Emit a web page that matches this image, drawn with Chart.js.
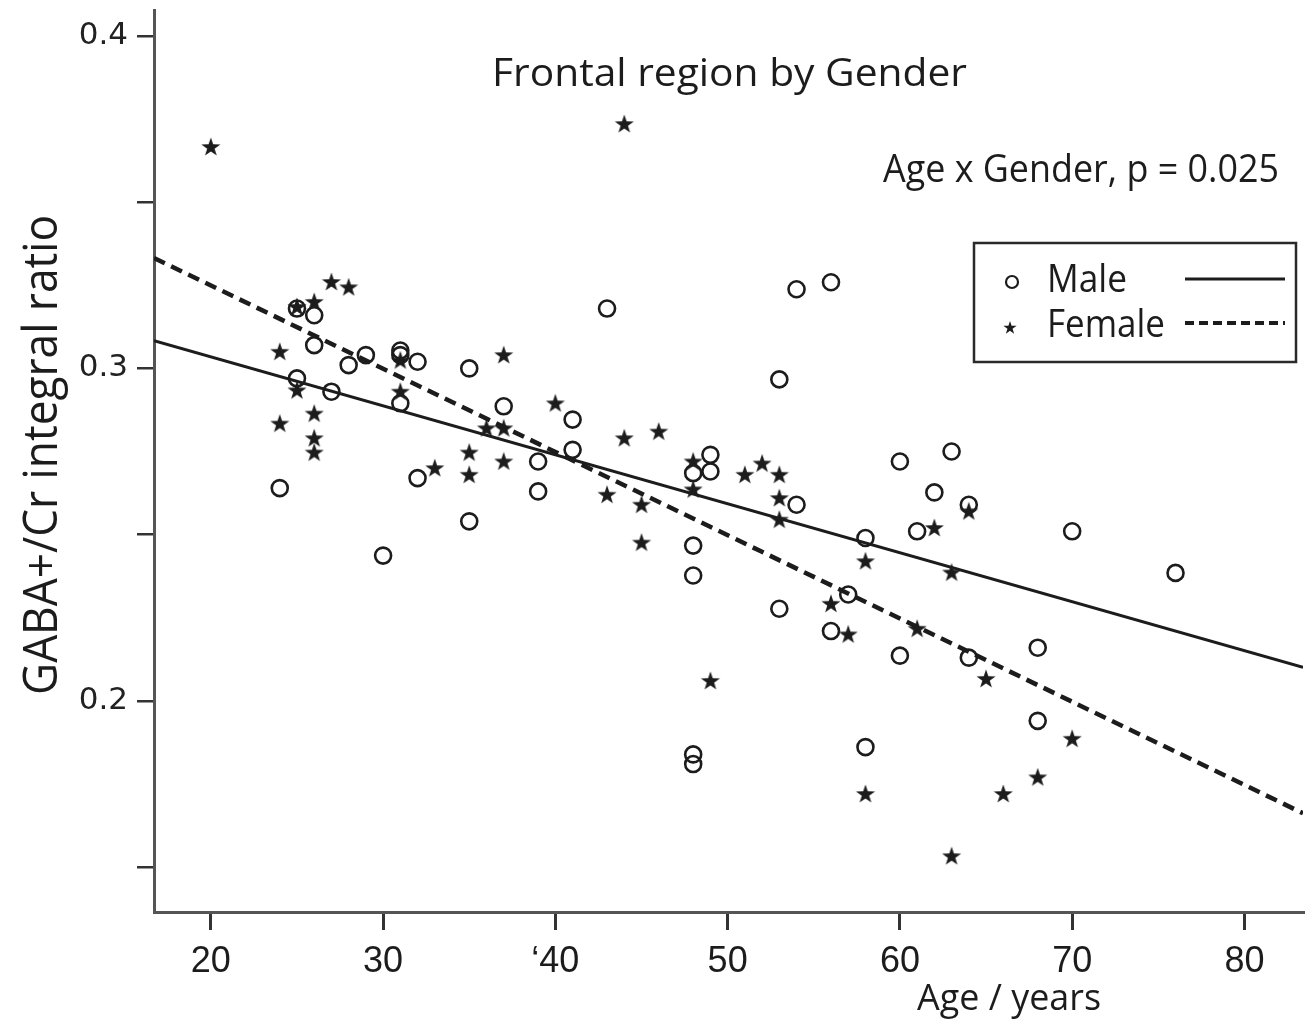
<!DOCTYPE html>
<html lang="en">
<head>
<meta charset="utf-8">
<title>Frontal region by Gender</title>
<script src="https://cdn.jsdelivr.net/npm/chart.js@4.4.1/dist/chart.umd.min.js"></script>
<style>
  body { margin: 0; background: #fff; }
  #wrap { width: 1309px; height: 1023px; }
</style>
</head>
<body>
<div id="wrap"><canvas id="gabaChart" width="1309" height="1023"></canvas></div>
<script>
// male subjects: age (years) and GABA+/Cr ratio
const maleAge = [25, 26, 26, 25, 27, 24, 28, 29, 31, 31, 31, 32, 30, 32, 35, 35, 37, 39, 39, 41,
  41, 43, 48, 49, 49, 48, 48, 48, 48, 53, 54, 56, 54, 53, 57, 56, 58, 58, 60, 60,
  61, 62, 63, 64, 64, 68, 68, 70, 76];
const maleRatio = [0.318, 0.316, 0.307, 0.297, 0.293, 0.264, 0.301, 0.304, 0.3054, 0.304, 0.2895, 0.302, 0.2437, 0.267, 0.300, 0.254, 0.2886, 0.272, 0.263, 0.2846,
  0.2755, 0.318, 0.2685, 0.274, 0.269, 0.2467, 0.2377, 0.1839, 0.181, 0.2967, 0.3238, 0.3259, 0.259, 0.2277, 0.232, 0.221, 0.249, 0.1861, 0.272, 0.2136,
  0.251, 0.2627, 0.275, 0.259, 0.213, 0.216, 0.194, 0.251, 0.2385];

// female subjects
const femaleAge = [20, 44, 27, 28, 26, 25, 24, 31, 37, 25, 31, 26, 24, 26, 26, 33, 35, 35, 36, 37,
  37, 40, 44, 46, 48, 43, 45, 48, 45, 51, 52, 53, 53, 53, 58, 62, 64, 63, 56, 57,
  61, 65, 49, 58, 63, 66, 68, 70];
const femaleRatio = [0.3666, 0.3735, 0.326, 0.3244, 0.320, 0.3185, 0.305, 0.3024, 0.304, 0.2934, 0.293, 0.2864, 0.2834, 0.279, 0.2747, 0.270, 0.2747, 0.268, 0.282, 0.282,
  0.272, 0.2895, 0.279, 0.281, 0.272, 0.262, 0.259, 0.2636, 0.2476, 0.268, 0.2714, 0.268, 0.261, 0.2545, 0.242, 0.252, 0.257, 0.2386, 0.2292, 0.220,
  0.2217, 0.2066, 0.206, 0.172, 0.1533, 0.172, 0.177, 0.1886];

// regression lines, end points at the axis limits
const fitAge = [16.7, 83.4];
const maleFit = [0.3083, 0.2101];
const femaleFit = [0.3332, 0.1662];

const xTicks = [20, 30, 40, 50, 60, 70, 80];
const xTickLabels = ['20', '30', '\u201840', '50', '60', '70', '80'];
const yTicks = [0.15, 0.2, 0.25, 0.3, 0.35, 0.4];
const yTickLabels = ['', '0.2', '', '0.3', '', '0.4'];

const INK = '#1c1c1c';

const pairs = (xs, ys) => xs.map((x, i) => ({ x: x, y: ys[i] }));

// five-pointed star used as the female marker
const starPath = (ctx, cx, cy, outer, inner) => {
  ctx.beginPath();
  for (let i = 0; i < 10; i++) {
    const r = i % 2 ? inner : outer;
    const a = -Math.PI / 2 + i * Math.PI / 5;
    ctx.lineTo(cx + r * Math.cos(a), cy + r * Math.sin(a));
  }
  ctx.closePath();
};
const starImg = document.createElement('canvas');
starImg.width = 24; starImg.height = 24;
(() => {
  const c = starImg.getContext('2d');
  starPath(c, 12, 12.5, 10, 3.9);
  c.fillStyle = INK;
  c.fill();
})();

// text squeezed to a given width (the figure uses a narrow face)
const fitText = (ctx, text, x, y, width, size) => {
  ctx.save();
  ctx.font = size + 'px "Open Sans"';
  const w = ctx.measureText(text).width;
  ctx.translate(x, y);
  ctx.scale(width / w, 1);
  ctx.textAlign = 'left';
  ctx.textBaseline = 'alphabetic';
  ctx.fillStyle = INK;
  ctx.fillText(text, 0, 0);
  ctx.restore();
};

const annotations = {
  id: 'annotations',
  afterDraw(chart) {
    const ctx = chart.ctx;
    const a = chart.chartArea;

    fitText(ctx, 'Frontal region by Gender', a.left + 338, a.top + 76, 475, 38);
    fitText(ctx, 'Age x Gender, p = 0.025', a.right - 420, a.top + 172, 396, 38);
    fitText(ctx, 'Age / years', a.left + 763, 1010, 184, 36);

    // y axis title
    ctx.save();
    ctx.translate(57, 695);
    ctx.rotate(-Math.PI / 2);
    fitText(ctx, 'GABA+/Cr integral ratio', 0, 0, 480, 48);
    ctx.restore();

    // legend box
    const bx = a.right - 329, by = a.top + 233, bw = 322, bh = 119;
    ctx.save();
    ctx.strokeStyle = '#2a2a2a';
    ctx.lineWidth = 2.5;
    ctx.strokeRect(bx, by, bw, bh);

    ctx.lineWidth = 2.2;
    ctx.strokeStyle = INK;
    ctx.beginPath();
    ctx.arc(bx + 38, by + 39, 6, 0, Math.PI * 2);
    ctx.stroke();
    starPath(ctx, bx + 36, by + 85, 7, 2.7);
    ctx.fillStyle = INK;
    ctx.fill();

    ctx.lineWidth = 3;
    ctx.beginPath();
    ctx.moveTo(bx + 211, by + 36);
    ctx.lineTo(bx + 311, by + 36);
    ctx.stroke();
    ctx.setLineDash([9, 5]);
    ctx.lineWidth = 4;
    ctx.beginPath();
    ctx.moveTo(bx + 211, by + 80);
    ctx.lineTo(bx + 311, by + 80);
    ctx.stroke();
    ctx.restore();

    fitText(ctx, 'Male', bx + 73, by + 49, 80, 38);
    fitText(ctx, 'Female', bx + 73, by + 94, 118, 38);
  }
};

new Chart(document.getElementById('gabaChart'), {
  type: 'scatter',
  data: {
    datasets: [
      {
        label: 'Male fit',
        type: 'line',
        data: pairs(fitAge, maleFit),
        borderColor: INK,
        borderWidth: 3,
        pointRadius: 0,
        fill: false
      },
      {
        label: 'Female fit',
        type: 'line',
        data: pairs(fitAge, femaleFit),
        borderColor: INK,
        borderWidth: 4.5,
        borderDash: [12, 7],
        pointRadius: 0,
        fill: false
      },
      {
        label: 'Male',
        data: pairs(maleAge, maleRatio),
        pointStyle: 'circle',
        pointRadius: 8,
        pointBorderWidth: 2.6,
        pointBorderColor: INK,
        pointBackgroundColor: 'rgba(0,0,0,0)'
      },
      {
        label: 'Female',
        data: pairs(femaleAge, femaleRatio),
        pointStyle: starImg,
        pointRadius: 9
      }
    ]
  },
  options: {
    responsive: false,
    animation: false,
    layout: { autoPadding: false, padding: { top: 10, right: 6, left: 0, bottom: 0 } },
    plugins: { legend: { display: false }, tooltip: { enabled: false } },
    scales: {
      x: {
        type: 'linear',
        min: 16.7,
        max: 83.4,
        afterBuildTicks: s => { s.ticks = xTicks.map(v => ({ value: v })); },
        afterFit: s => { s.height = 111; s.paddingLeft = 0; s.paddingRight = 0; },
        border: { color: '#555', width: 3 },
        grid: { drawOnChartArea: false, drawTicks: true, tickLength: 18, color: '#333', lineWidth: 3 },
        ticks: {
          color: INK,
          padding: 10,
          maxRotation: 0,
          font: { family: 'Liberation Sans', size: 36 },
          callback: v => xTickLabels[xTicks.indexOf(v)]
        }
      },
      y: {
        min: 0.1365,
        max: 0.4078,
        afterBuildTicks: s => { s.ticks = yTicks.map(v => ({ value: v })); },
        afterFit: s => { s.width = 154; s.paddingTop = 0; s.paddingBottom = 0; },
        border: { color: '#555', width: 3 },
        grid: { drawOnChartArea: false, drawTicks: true, tickLength: 17, color: '#333', lineWidth: 2.5 },
        ticks: {
          color: '#222',
          padding: 9,
          font: { family: 'DejaVu Sans', size: 31 },
          callback: v => yTickLabels[yTicks.findIndex(t => Math.abs(t - v) < 1e-6)]
        }
      }
    }
  },
  plugins: [annotations]
});
</script>
</body>
</html>
